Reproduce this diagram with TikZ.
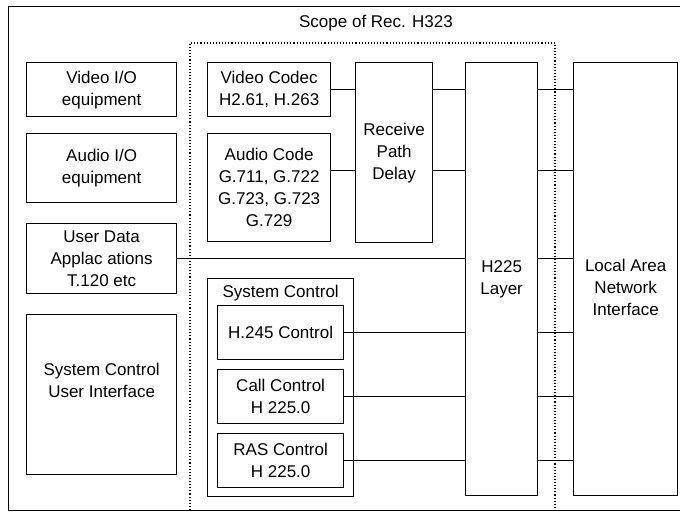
\documentclass[tikz,border=0pt]{standalone}
\usepackage{fontspec}
\setmainfont{Liberation Sans}
\usetikzlibrary{positioning}
\tikzset{
  h323 frame/.style={draw=black, line width=1pt},
  h323 scope/.style={draw=black, dotted, line width=1.1pt},
  h323 box/.style={draw=black, line width=1.3pt, anchor=north west, inner sep=0pt, align=center, font=\fontsize{17}{22}\selectfont},
  h323 label/.style={align=center, inner sep=0pt, font=\fontsize{17}{22}\selectfont},
  h323 link/.style={draw=black, line width=1.1pt},
}
\begin{document}
\begin{tikzpicture}[x=1pt,y=-1pt]
  \useasboundingbox (0,0) rectangle (680,512);
  % outer frame (its right side runs off the page)
  \draw[h323 frame] (690,6) -- (8,6) -- (8,510) -- (690,510);
  % dotted scope of the recommendation
  \draw[h323 scope] (190,510) -- (190,43) -- (555,43) -- (555,510);
  \node[h323 label] (scope) at (376,23) {Scope of Rec. H323};
  % left column, outside the scope
  \node[h323 box, minimum width=150pt, minimum height=54pt] (vio) at (26,62) {Video I/O\\equipment};
  \node[h323 box, minimum width=150pt, minimum height=69pt] (aio) at (26,133) {Audio I/O\\equipment};
  \node[h323 box, minimum width=150pt, minimum height=70pt] (udata) at (26,223) {User Data\\Applac ations\\T.120 etc};
  \node[h323 box, minimum width=150pt, minimum height=160pt] (sysui) at (26,314) {System Control\\User Interface\\[6pt]};
  % codecs and delay
  \node[h323 box, minimum width=123pt, minimum height=54pt] (vcodec) at (207,62) {Video Codec\\H2.61, H.263};
  \node[h323 box, minimum width=123pt, minimum height=108pt] (acodec) at (207,133) {Audio Code\\G.711, G.722\\G.723, G.723\\G.729};
  \node[h323 box, minimum width=77pt, minimum height=180pt] (rpd) at (355,62) {Receive\\Path\\Delay};
  % system control group
  \node[h323 box, minimum width=146pt, minimum height=218pt] (sysctl) at (207,278) {};
  \node[h323 label, below=7pt of sysctl.north] (sysname) {System Control};
  \node[h323 box, minimum width=126pt, minimum height=54pt] (h245) at (217,305) {H.245 Control};
  \node[h323 box, minimum width=126pt, minimum height=54pt] (call) at (217,369) {Call Control\\H 225.0};
  \node[h323 box, minimum width=126pt, minimum height=54pt] (ras) at (217,433) {RAS Control\\H 225.0};
  % transport
  \node[h323 box, minimum width=72pt, minimum height=433pt] (h225) at (465,62) {H225\\Layer};
  \node[h323 box, minimum width=104pt, minimum height=433pt] (lan) at (573,62) {\\[6pt]Local Area\\Network\\Interface};
  \coordinate (alevel) at ([yshift=17pt]acodec.east);
  % links into the delay and the H225 layer
  \draw[h323 link] (vcodec.east) -- (vcodec.east -| rpd.west);
  \draw[h323 link] (alevel) -- (alevel -| rpd.west);
  \draw[h323 link] (rpd.east |- vcodec.east) -- (h225.west |- vcodec.east);
  \draw[h323 link] (rpd.east |- alevel) -- (h225.west |- alevel);
  \foreach \n in {udata,h245,call,ras}
    \draw[h323 link] (\n.east) -- (\n.east -| h225.west);
  % links from the H225 layer to the network
  \foreach \n in {vcodec.east,alevel,udata.east,h245.east,call.east,ras.east}
    \draw[h323 link] (h225.east |- \n) -- (lan.west |- \n);
\end{tikzpicture}
\end{document}
